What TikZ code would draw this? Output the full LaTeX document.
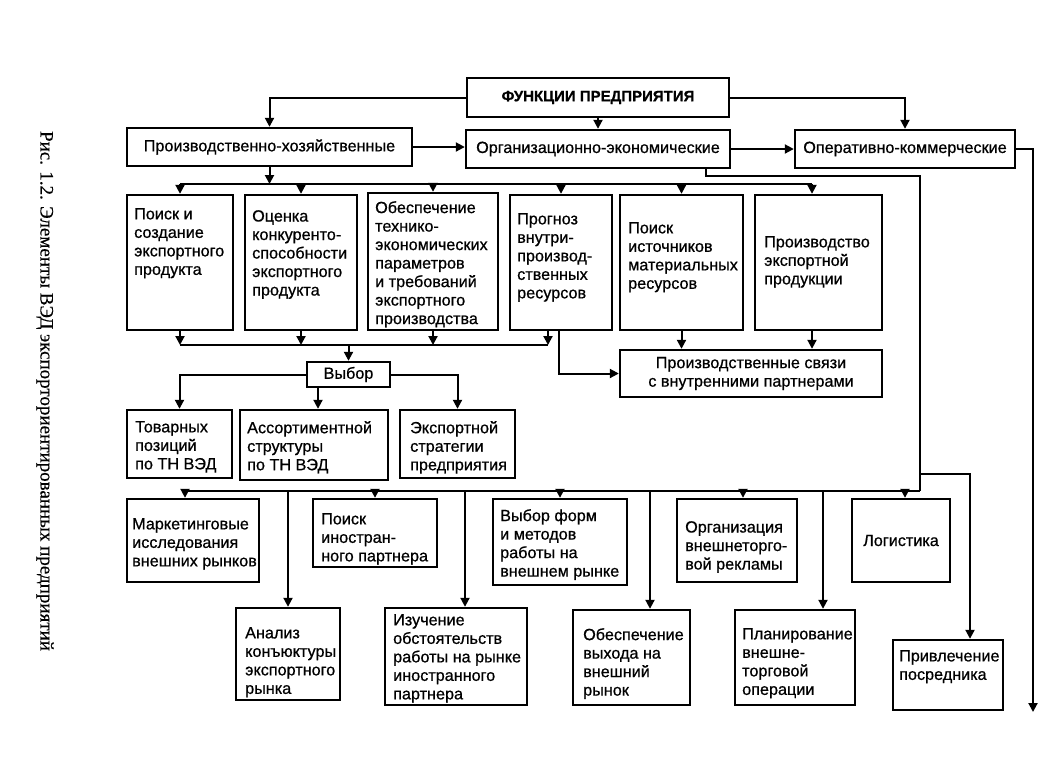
\documentclass[tikz,border=0pt]{standalone}
\usepackage{fontspec}
\setmainfont{Liberation Serif}
\newfontfamily\boxfont[FakeBold=0.7]{Liberation Sans}
\newfontfamily\capfont[FakeBold=0.4]{Liberation Serif}
\usetikzlibrary{arrows.meta,fit}
\tikzset{
  box/.style={draw, line width=2.4pt, inner sep=0pt},
  txt/.style={font=\boxfont\fontsize{16.2}{18.5}\selectfont, align=left, inner sep=0pt, anchor=north west},
  ctxt/.style={font=\boxfont\fontsize{16.2}{18.5}\selectfont, align=center, inner sep=0pt},
  con/.style={line width=2pt},
  arr/.style={con, -{Triangle[length=9pt,width=9pt]}},
}
\begin{document}
\begin{tikzpicture}[x=1pt,y=-1pt]
\useasboundingbox (0,0) rectangle (1040,780);
% caption
\node[rotate=-90, font=\capfont\fontsize{19}{22}\selectfont, inner sep=0pt] (cap) at (45,391) {Рис. 1.2. Элементы ВЭД экспорториентированных предприятий};
% top row
\node[box, fit={(467,78) (729,117)}] (F) {};
\node[font=\boxfont\bfseries\fontsize{15}{18}\selectfont, inner sep=0pt] (Ft) at (F.center) {ФУНКЦИИ ПРЕДПРИЯТИЯ};
\node[box, fit={(127,128) (412,166)}] (PK) {};
\node[ctxt] (PKt) at (PK.center) {Производственно-хозяйственные};
\node[box, fit={(466,130) (730,168)}] (OE) {};
\node[ctxt] (OEt) at (OE.center) {Организационно-экономические};
\node[box, fit={(795,130) (1015,168)}] (OK) {};
\node[ctxt] (OKt) at (OK.center) {Оперативно-коммерческие};
% row 2
\node[box, fit={(127,195) (233,330)}] (B1) {};
\node[box, fit={(245,195) (357,330)}] (B2) {};
\node[box, fit={(368,193) (498,330)}] (B3) {};
\node[box, fit={(510,195) (612,330)}] (B4) {};
\node[box, fit={(620,195) (743,330)}] (B5) {};
\node[box, fit={(755,195) (882,330)}] (B6) {};
\node[txt] (B1t) at (134,208) {Поиск и\\создание\\экспортного\\продукта};
\node[txt] (B2t) at (252,210) {Оценка\\конкуренто-\\способности\\экспортного\\продукта};
\node[txt] (B3t) at (375,201) {Обеспечение\\технико-\\экономических\\параметров\\и требований\\экспортного\\производства};
\node[txt] (B4t) at (517,213) {Прогноз\\внутри-\\производ-\\ственных\\ресурсов};
\node[txt] (B5t) at (628,222) {Поиск\\источников\\материальных\\ресурсов};
\node[txt] (B6t) at (764,236) {Производство\\экспортной\\продукции};
% production links
\node[box, fit={(620,350) (882,397)}] (PS) {};
\node[ctxt] (PSt) at (PS.center) {Производственные связи\\с внутренними партнерами};
% choice
\node[box, fit={(307,362) (390,387)}] (V) {};
\node[ctxt] (Vt) at (V.center) {Выбор};
\node[box, fit={(127,410) (232,478)}] (T1) {};
\node[box, fit={(240,410) (388,480)}] (T2) {};
\node[box, fit={(400,410) (515,478)}] (T3) {};
\node[txt] (T1t) at (135,421) {Товарных\\позиций\\по ТН ВЭД};
\node[txt] (T2t) at (247,421) {Ассортиментной\\структуры\\по ТН ВЭД};
\node[txt] (T3t) at (410,421) {Экспортной\\стратегии\\предприятия};
% row 4
\node[box, fit={(127,499) (259,582)}] (M1) {};
\node[box, fit={(313,499) (437,567)}] (M2) {};
\node[box, fit={(493,499) (627,585)}] (M3) {};
\node[box, fit={(677,499) (797,582)}] (M4) {};
\node[box, fit={(852,499) (950,582)}] (M5) {};
\node[txt] (M1t) at (132,518) {Маркетинговые\\исследования\\внешних рынков};
\node[txt] (M2t) at (321,513) {Поиск\\иностран-\\ного партнера};
\node[txt] (M3t) at (500,509) {Выбор форм\\и методов\\работы на\\внешнем рынке};
\node[txt] (M4t) at (685,521) {Организация\\внешнеторго-\\вой рекламы};
\node[ctxt] (M5t) at (M5.center) {Логистика};
% row 5
\node[box, fit={(236,608) (340,700)}] (N1) {};
\node[box, fit={(385,608) (527,705)}] (N2) {};
\node[box, fit={(573,610) (690,705)}] (N3) {};
\node[box, fit={(735,610) (855,705)}] (N4) {};
\node[box, fit={(893,640) (1003,710)}] (N5) {};
\node[txt] (N1t) at (245,627) {Анализ\\конъюктуры\\экспортного\\рынка};
\node[txt] (N2t) at (393,614) {Изучение\\обстоятельств\\работы на рынке\\иностранного\\партнера};
\node[txt] (N3t) at (583,628) {Обеспечение\\выхода на\\внешний\\рынок};
\node[txt] (N4t) at (742,628) {Планирование\\внешне-\\торговой\\операции};
\node[txt] (N5t) at (899,650) {Привлечение\\посредника};
% coordinates
\coordinate (rb) at (1033,712);
\coordinate (b1L) at (180,184);
\coordinate (b1R) at (812,184);
\coordinate (oe1) at (706,176);
\coordinate (oe2) at (920,176);
\coordinate (oe3) at (920,491);
\coordinate (b3L) at (185,491);
\coordinate (br) at (920,474);
\coordinate (br2) at (970,474);
\coordinate (b2L) at (180,345);
\coordinate (b2R) at (548,345);
% top connectors
\draw[arr] (F.west) -| (PK.north);
\draw[arr] (F.south) -- (OE.north);
\draw[arr] (F.east) -| (OK.north);
\draw[arr] (PK.east) -- (OE.west |- PK.east);
\draw[arr] (OE.east) -- (OK.west);
\draw[arr] (OK.east) -| (rb);
% bus 1
\draw[arr] (PK.south) -- (PK.south |- b1L);
\draw[con] (b1L) -- (b1R);
\foreach \n in {B1,B2,B3,B4,B5} \draw[arr] (\n.north |- b1L) -- (\n.north);
\draw[arr] (b1R) -- (b1R |- B6.north);
% org-econ line
\draw[con] (oe1 |- OE.south) -- (oe1) -- (oe2) -- (oe3);
% bus 2
\draw[con] (b2L) -- (b2R);
\foreach \n in {B1,B2,B3} \draw[arr] (\n.south) -- (\n.south |- b2L);
\draw[arr] (B4.south -| b2R) -- (b2R);
\draw[arr] (V.north |- b2L) -- (V.north);
\draw[arr] (B4.south -| 559,0) |- (PS.west);
\draw[arr] (B5.south) -- (PS.north -| B5.south);
\draw[arr] (B6.south -| 812,0) -- (PS.north -| 812,0);
% choice
\draw[arr] (V.west) -| (T1.north);
\draw[arr] (V.south -| 318,0) -- (T2.north -| 318,0);
\draw[arr] (V.east) -| (T3.north);
% bus 3
\draw[con] (b3L) -- (oe3);
\foreach \x/\n in {185/M1,375/M2,560/M3,743/M4,905/M5} \draw[arr] (\x,491) -- (\n.north -| \x,0);
\foreach \x/\n in {288/N1,465/N2,650/N3,823/N4} \draw[arr] (\x,491) -- (\n.north -| \x,0);
\draw[arr] (br) -- (br2) -- (N5.north -| br2);
\end{tikzpicture}
\end{document}
